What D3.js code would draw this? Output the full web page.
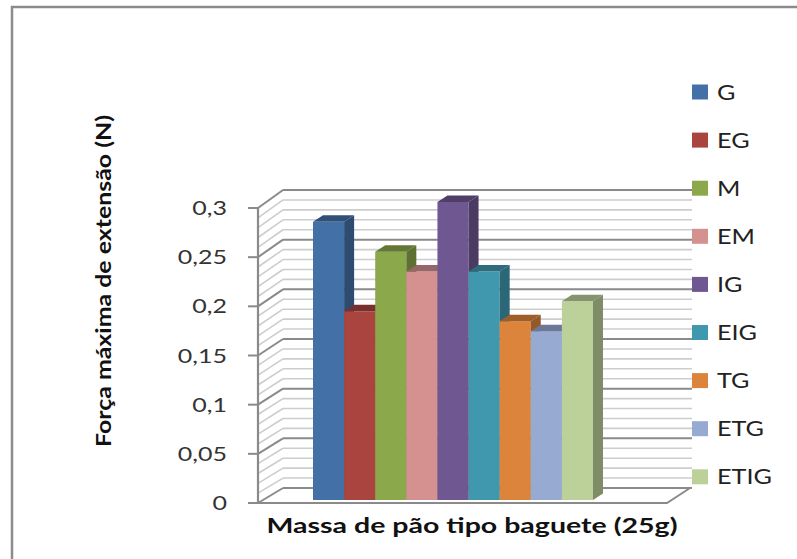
<!DOCTYPE html>
<html>
<head>
<meta charset="utf-8">
<script src="https://cdn.jsdelivr.net/npm/d3@7/dist/d3.min.js"></script>
<style>
  html, body { margin: 0; padding: 0; background: #fff; }
  svg { display: block; }
  text { font-family: Lato, "Open Sans", sans-serif; }
</style>
</head>
<body>
<svg id="chart" width="797" height="559"></svg>
<script>
// Series (one category: baguette dough, 25 g)
const series = ["G", "EG", "M", "EM", "IG", "EIG", "TG", "ETG", "ETIG"];
const values = [0.28, 0.19, 0.25, 0.23, 0.30, 0.23, 0.18, 0.17, 0.20];
const colors = ["#4470a8", "#a9443f", "#8ba84b", "#d49190", "#6f5892",
                "#3f98ae", "#dc843b", "#97aad2", "#bcd099"];
const yMajorTicks = [0, 0.05, 0.1, 0.15, 0.2, 0.25, 0.3];
const yMinorTicks = d3.range(0, 31).map(i => i / 100);
const yTitle = "Força máxima de extensão (N)";
const xTitle = "Massa de pão tipo baguete (25g)";

const svg = d3.select("#chart");
const fmt = d3.formatLocale({ decimal: ",", thousands: ".", grouping: [3], currency: ["", ""] }).format("~g");

// 3D box: front plane (axis) and back wall
const xFrontL = 258, xFrontR = 667, xBackL = 283, xBackR = 690;
const yFront = d3.scaleLinear().domain([0, 0.3]).range([503, 208]);
const yBack  = d3.scaleLinear().domain([0, 0.3]).range([488, 190]);
// bar front plane
const yBar = d3.scaleLinear().domain([0, 0.3]).range([500, 202]);
const xBar = d3.scaleBand().domain(series).range([313, 593]).padding(0);
const depth = { dx: 10, dy: -6.5 };

const gridMinor = "#cdcdcd", gridMajor = "#8a8a8a";

// chart area frame
svg.append("rect").attr("x", 12).attr("y", 7).attr("width", 820).attr("height", 600)
  .attr("fill", "none").attr("stroke", "#8c8c8c").attr("stroke-width", 2.5);

// back wall and side wall gridlines
const grid = svg.append("g");
yMinorTicks.forEach(v => {
  const major = yMajorTicks.some(t => Math.abs(t - v) < 1e-9);
  const c = major ? gridMajor : gridMinor;
  const w = major ? 2 : 1.6;
  grid.append("line").attr("x1", xBackL).attr("x2", xBackR + 2)
    .attr("y1", yBack(v)).attr("y2", yBack(v)).attr("stroke", c).attr("stroke-width", w);
  grid.append("line").attr("x1", xFrontL).attr("y1", yFront(v))
    .attr("x2", xBackL).attr("y2", yBack(v)).attr("stroke", c).attr("stroke-width", w);
});

// floor outline
svg.append("path")
  .attr("d", `M${xFrontL},${yFront(0)} L${xFrontR},${yFront(0)} L${xBackR},${yBack(0)}`)
  .attr("fill", "none").attr("stroke", gridMajor).attr("stroke-width", 2);

// value axis
const axisG = svg.append("g");
axisG.append("line").attr("x1", xFrontL).attr("x2", xFrontL)
  .attr("y1", yFront(0.3)).attr("y2", yFront(0) + 1)
  .attr("stroke", gridMajor).attr("stroke-width", 2.2);
yMajorTicks.forEach(v => {
  axisG.append("line").attr("x1", xFrontL - 10).attr("x2", xFrontL)
    .attr("y1", yFront(v)).attr("y2", yFront(v))
    .attr("stroke", gridMajor).attr("stroke-width", 2);
  axisG.append("text")
    .attr("transform", `translate(227,${yFront(v) + 7}) scale(1.25,1)`)
    .attr("text-anchor", "end").attr("font-size", 20).attr("fill", "#333")
    .text(fmt(v));
});

// 3D columns, drawn left to right so right neighbours hide side faces
const bars = svg.append("g");
series.forEach((s, i) => {
  const x0 = xBar(s), x1 = x0 + xBar.bandwidth();
  const yT = yBar(values[i]), yB = yBar(0);
  const base = d3.color(colors[i]);
  const g = bars.append("g");
  // front face
  g.append("rect").attr("x", x0).attr("y", yT).attr("width", x1 - x0).attr("height", yB - yT)
    .attr("fill", base.formatHex());
  // right side face
  g.append("path")
    .attr("d", `M${x1},${yT} L${x1 + depth.dx},${yT + depth.dy} L${x1 + depth.dx},${yB + depth.dy} L${x1},${yB} Z`)
    .attr("fill", base.darker(1.1).formatHex());
  // top face
  g.append("path")
    .attr("d", `M${x0},${yT} L${x1},${yT} L${x1 + depth.dx},${yT + depth.dy} L${x0 + depth.dx},${yT + depth.dy} Z`)
    .attr("fill", base.darker(0.95).formatHex());
});

// legend
const legend = svg.append("g");
series.forEach((s, i) => {
  const cy = 92 + i * 48.1;
  legend.append("rect").attr("x", 692).attr("y", cy - 7.5).attr("width", 16).attr("height", 15)
    .attr("fill", colors[i]);
  legend.append("text")
    .attr("transform", `translate(717,${cy + 7.5}) scale(1.2,1)`)
    .attr("font-size", 21).attr("fill", "#222").text(s);
});

// axis titles
svg.append("text")
  .attr("x", 472).attr("y", 533).attr("text-anchor", "middle")
  .attr("font-size", 21).attr("font-weight", "bold").attr("fill", "#111")
  .attr("textLength", 411).attr("lengthAdjust", "spacingAndGlyphs")
  .text(xTitle);
svg.append("text")
  .attr("transform", "translate(111,281) rotate(-90)")
  .attr("text-anchor", "middle")
  .attr("font-size", 21).attr("font-weight", "bold").attr("fill", "#111")
  .attr("textLength", 332).attr("lengthAdjust", "spacingAndGlyphs")
  .text(yTitle);
</script>
</body>
</html>
